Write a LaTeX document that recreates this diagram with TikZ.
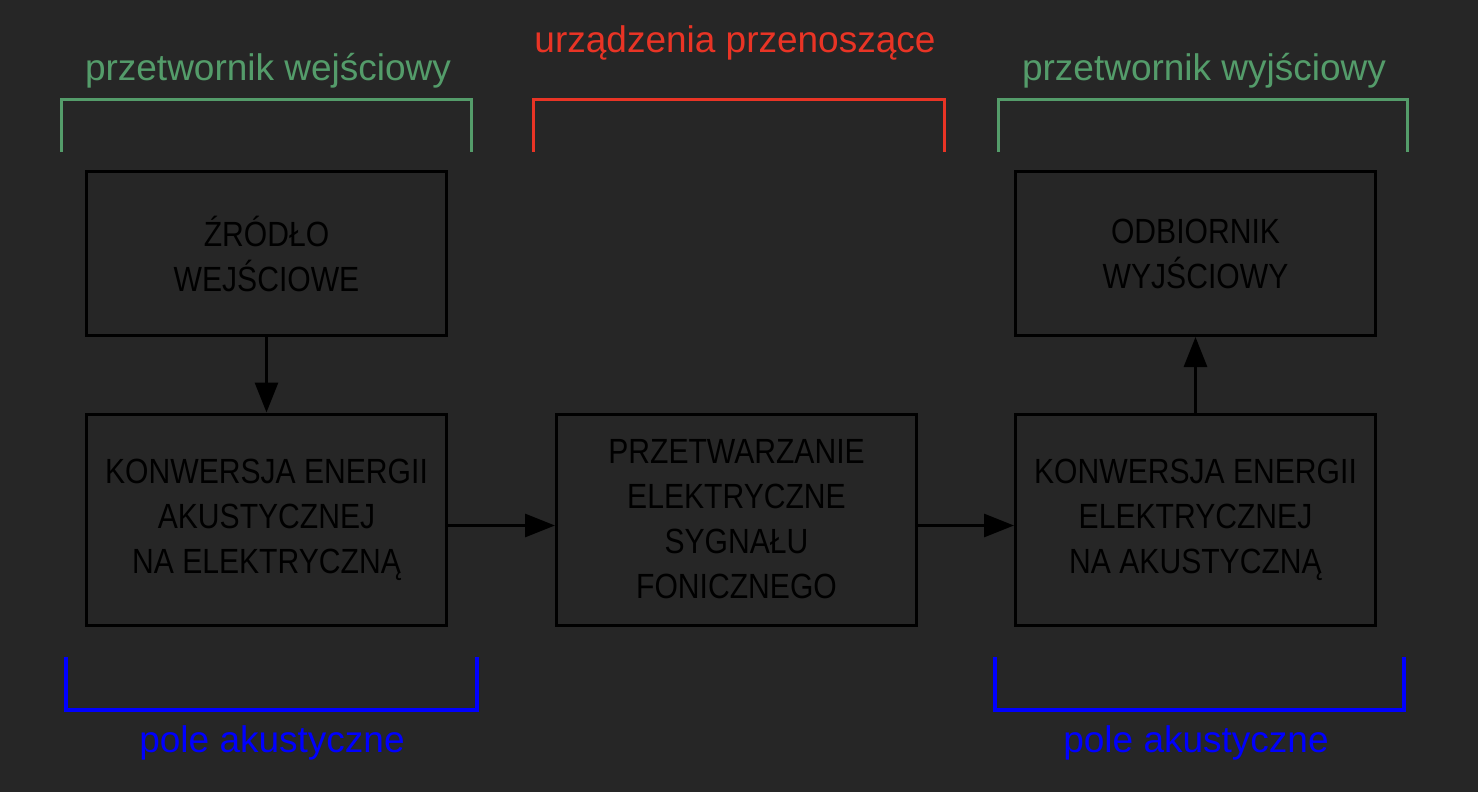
\documentclass[tikz,border=0pt]{standalone}
\usepackage{fontspec}
\setmainfont{Liberation Sans}
\newfontfamily\boxfont[FakeStretch=0.86]{Liberation Sans}
\usetikzlibrary{arrows.meta,positioning}
\definecolor{bgdark}{RGB}{38,38,38}
\definecolor{trgreen}{RGB}{84,156,106}
\definecolor{trred}{RGB}{233,52,37}
\definecolor{trblue}{RGB}{0,0,255}
\tikzset{
    block/.style={draw=black,line width=1.5pt,minimum width=180pt,
        align=center,text=black,
        font=\boxfont\fontsize{17.5}{22.5}\selectfont},
    flow/.style={line width=1.5pt,-{Triangle[length=15pt,width=11.5pt]}},
    tag/.style={anchor=base,font=\fontsize{18.5}{22}\selectfont}
}
\begin{document}
\begin{tikzpicture}[x=0.5pt,y=-0.5pt,line join=miter]
    \useasboundingbox[fill=bgdark] (0,0) rectangle (1478,792);
    % bloki
    \node[block,minimum height=82pt] (zrodlo) at (266.5,253.5)
        {ŹRÓDŁO\\WEJŚCIOWE};
    \node[block,minimum height=105.5pt] (konwA) at (266.5,519.5)
        {KONWERSJA ENERGII\\AKUSTYCZNEJ\\NA ELEKTRYCZNĄ};
    \node[block,minimum height=105.5pt] (przetw) at (736.5,519.5)
        {PRZETWARZANIE\\ELEKTRYCZNE\\SYGNAŁU\\FONICZNEGO};
    \node[block,minimum height=105.5pt] (konwB) at (1195.5,519.5)
        {KONWERSJA ENERGII\\ELEKTRYCZNEJ\\NA AKUSTYCZNĄ};
    \node[block,minimum height=82pt] (odbiornik) at (1195.5,253.5)
        {ODBIORNIK\\WYJŚCIOWY};
    % strzalki
    \draw[flow] (zrodlo) -- (konwA);
    \draw[flow] ([yshift=-3pt]konwA.east) -- ([yshift=-3pt]przetw.west);
    \draw[flow] ([yshift=-3pt]przetw.east) -- ([yshift=-3pt]konwB.west);
    \draw[flow] (konwB) -- (odbiornik);
    % nawiasy gorne
    \draw[trgreen,line width=1.5pt] (61.5,152) -- (61.5,100) -- (471,100) -- (471,152);
    \draw[trred,line width=1.5pt] (533.5,152) -- (533.5,99.5) -- (944.5,99.5) -- (944.5,152);
    \draw[trgreen,line width=1.5pt] (998,152) -- (998,100) -- (1407.5,100) -- (1407.5,152);
    \node[tag,text=trgreen] (wej) at (268,81) {przetwornik wejściowy};
    \node[tag,text=trred] (prz) at (735,53) {urządzenia przenoszące};
    \node[tag,text=trgreen] (wyj) at (1204,81) {przetwornik wyjściowy};
    % nawiasy dolne
    \draw[trblue,line width=2pt] (65.5,657) -- (65.5,710) -- (476.5,710) -- (476.5,657);
    \draw[trblue,line width=2pt] (994.5,657) -- (994.5,710) -- (1403.5,710) -- (1403.5,657);
    \node[tag,text=trblue] (poleA) at (272,752) {pole akustyczne};
    \node[tag,text=trblue] (poleB) at (1196,752) {pole akustyczne};
\end{tikzpicture}
\end{document}
